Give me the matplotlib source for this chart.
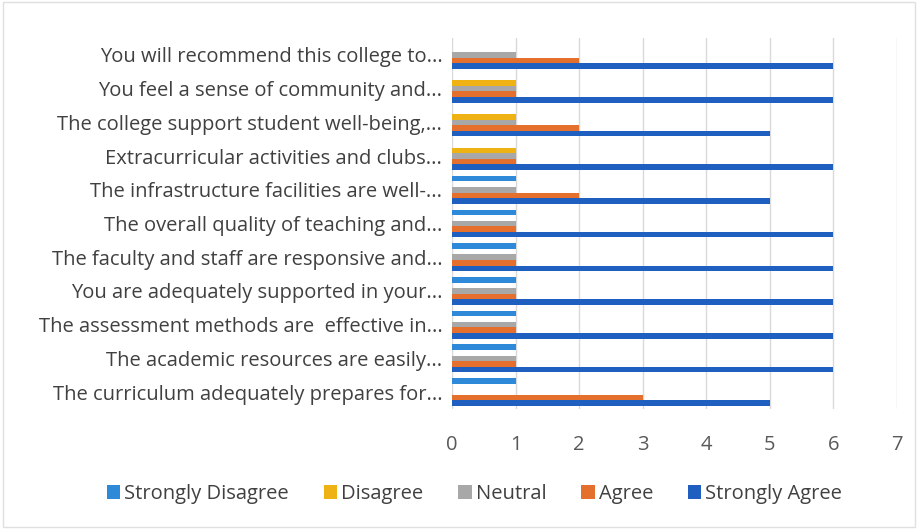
import matplotlib
matplotlib.use("Agg")
import matplotlib.pyplot as plt
import numpy as np

plt.rcParams['font.family'] = ['Open Sans', 'DejaVu Sans']

# Categories listed bottom to top as in the chart
categories = [
    "The curriculum adequately prepares for...",
    "The academic resources are easily...",
    "The assessment methods are  effective in...",
    "You are adequately supported in your...",
    "The faculty and staff are responsive and...",
    "The overall quality of teaching and...",
    "The infrastructure facilities are well-...",
    "Extracurricular activities and clubs...",
    "The college support student well-being,...",
    "You feel a sense of community and...",
    "You will recommend this college to...",
]
series_names = ["Strongly Disagree", "Disagree", "Neutral", "Agree", "Strongly Agree"]
strongly_disagree = [1, 1, 1, 1, 1, 1, 1, 0, 0, 0, 0]
disagree          = [0, 0, 0, 0, 0, 0, 0, 1, 1, 1, 0]
neutral           = [0, 1, 1, 1, 1, 1, 1, 1, 1, 1, 1]
agree             = [3, 1, 1, 1, 1, 1, 2, 1, 2, 1, 2]
strongly_agree    = [5, 6, 6, 6, 6, 6, 5, 6, 5, 6, 6]
x_ticks = [0, 1, 2, 3, 4, 5, 6, 7]

colors = ["#2E8AD8", "#EEB214", "#A8A8A8", "#E56F2C", "#1F5FBF"]
values = [strongly_disagree, disagree, neutral, agree, strongly_agree]

fig = plt.figure(figsize=(9.18, 5.29), dpi=100)
ax = fig.add_axes([0.4924, 0.227, 0.977 - 0.4924, 0.928 - 0.227])

n = len(categories)
y = np.arange(n)
h = 0.165
for i, (name, vals, c) in enumerate(zip(series_names, values, colors)):
    # series 0 at top of each group, series 4 at bottom
    offset = (2 - i) * h
    ax.barh(y + offset, vals, height=h, color=c, label=name, zorder=3)

ax.set_xlim(0, 7)
ax.set_ylim(-0.5, n - 0.5)
ax.set_xticks(x_ticks)
ax.set_yticks(y)
ax.set_yticklabels(categories)
ax.grid(axis='x', color='#D9D9D9', linewidth=1, zorder=0)
for s in ax.spines.values():
    s.set_visible(False)
ax.tick_params(axis='both', length=0, colors='#404040', labelsize=14.5)
ax.tick_params(axis='x', pad=19, colors='#595959')
ax.tick_params(axis='y', pad=7)

handles, labels = ax.get_legend_handles_labels()
leg = fig.legend(handles, labels, loc='center', bbox_to_anchor=(0.517, 0.066), ncol=5,
                 frameon=False, fontsize=14.5, handlelength=0.65, handleheight=0.65,
                 handletextpad=0.2, columnspacing=1.75, labelcolor='#404040')

fig.patches.append(plt.Rectangle((0.003, 0.003), 0.994, 0.994, transform=fig.transFigure,
                                 fill=False, edgecolor='#E0E0E0', linewidth=1))

fig.savefig("out.png", dpi=100, facecolor='white')
